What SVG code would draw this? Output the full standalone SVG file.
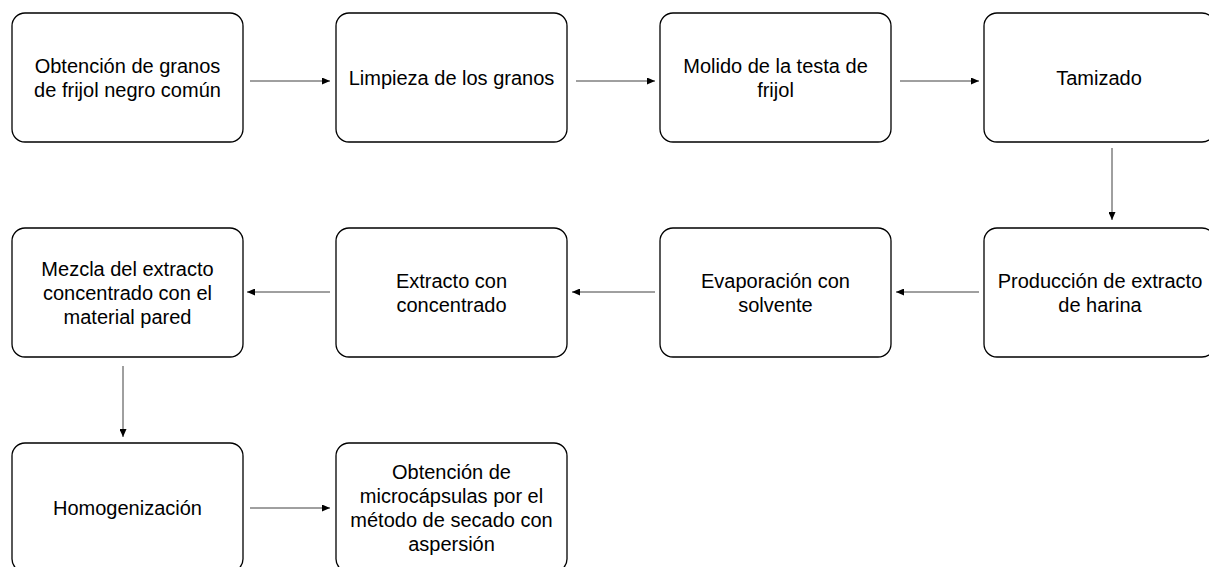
<svg xmlns="http://www.w3.org/2000/svg" width="1209" height="567" viewBox="0 0 1209 567">
<style>
.box{fill:#fff;stroke:#000;stroke-width:1.3}
.t{font-family:"Liberation Sans",Arial,sans-serif;font-size:20px;fill:#000;text-anchor:middle}
.c{stroke:#404040;stroke-width:1;fill:none;marker-end:url(#ah)}
</style>
<defs>
<marker id="ah" markerWidth="8" markerHeight="7" refX="8" refY="3.5" orient="auto" markerUnits="userSpaceOnUse">
<path d="M0,0 L8,3.5 L0,7 Z" fill="#000"/>
</marker>
</defs>
<rect width="1209" height="567" fill="#fff"/>
<g id="connectors">
<line class="c" x1="250" y1="81" x2="330" y2="81"/>
<line class="c" x1="576" y1="81" x2="655" y2="81"/>
<line class="c" x1="900" y1="81" x2="979" y2="81"/>
<line class="c" x1="1112" y1="148" x2="1112" y2="220"/>
<line class="c" x1="979" y1="292" x2="896" y2="292"/>
<line class="c" x1="655" y1="292" x2="572" y2="292"/>
<line class="c" x1="330" y1="292" x2="247" y2="292"/>
<line class="c" x1="123" y1="366" x2="123" y2="437"/>
<line class="c" x1="250" y1="508" x2="330" y2="508"/>
</g>
<g id="n1"><rect class="box" x="12" y="13" width="231" height="129" rx="13"/>
<text class="t"><tspan x="127.5" y="72.5">Obtención de granos</tspan><tspan x="127.5" y="96.5">de frijol negro común</tspan></text></g>
<g id="n2"><rect class="box" x="336" y="13" width="231" height="129" rx="13"/>
<text class="t" x="451.5" y="84.5">Limpieza de los granos</text></g>
<g id="n3"><rect class="box" x="660" y="13" width="231" height="129" rx="13"/>
<text class="t"><tspan x="775.5" y="72.5">Molido de la testa de</tspan><tspan x="775.5" y="96.5">frijol</tspan></text></g>
<g id="n4"><rect class="box" x="984" y="13" width="231" height="129" rx="13"/>
<text class="t" x="1099" y="84.5">Tamizado</text></g>
<g id="n5"><rect class="box" x="984" y="228" width="231" height="129" rx="13"/>
<text class="t"><tspan x="1100" y="287.5">Producción de extracto</tspan><tspan x="1100" y="311.5">de harina</tspan></text></g>
<g id="n6"><rect class="box" x="660" y="228" width="231" height="129" rx="13"/>
<text class="t"><tspan x="775.5" y="287.5">Evaporación con</tspan><tspan x="775.5" y="311.5">solvente</tspan></text></g>
<g id="n7"><rect class="box" x="336" y="228" width="231" height="129" rx="13"/>
<text class="t"><tspan x="451.5" y="287.5">Extracto con</tspan><tspan x="451.5" y="311.5">concentrado</tspan></text></g>
<g id="n8"><rect class="box" x="12" y="228" width="231" height="129" rx="13"/>
<text class="t"><tspan x="127.5" y="275.5">Mezcla del extracto</tspan><tspan x="127.5" y="299.5">concentrado con el</tspan><tspan x="127.5" y="323.5">material pared</tspan></text></g>
<g id="n9"><rect class="box" x="12" y="443" width="231" height="129" rx="13"/>
<text class="t" x="127.5" y="514.5">Homogenización</text></g>
<g id="n10"><rect class="box" x="336" y="443" width="231" height="129" rx="13"/>
<text class="t"><tspan x="451.5" y="478.5">Obtención de</tspan><tspan x="451.5" y="502.5">microcápsulas por el</tspan><tspan x="451.5" y="526.5">método de secado con</tspan><tspan x="451.5" y="550.5">aspersión</tspan></text></g>
</svg>
